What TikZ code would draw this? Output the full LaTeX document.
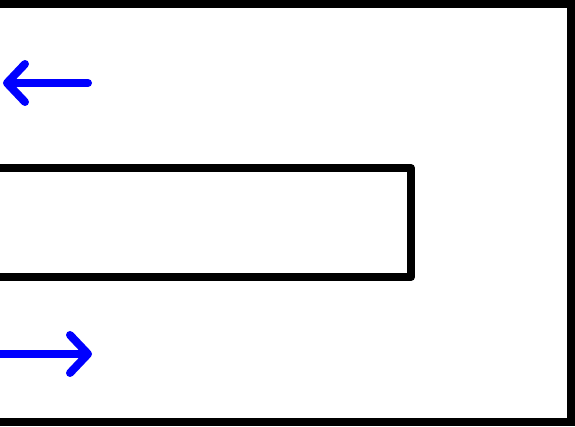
\documentclass[tikz,border=0pt]{standalone}
\usetikzlibrary{arrows.meta}

\tikzset{
  wall/.style={line width=8pt,black},
  flow/.style={line width=8pt,blue,line cap=round,
    -{Straight Barb[length=18pt,width=38pt,round]}}
}

\begin{document}
\begin{tikzpicture}[x=1pt,y=1pt]
\useasboundingbox (0,0) rectangle (575,427);
%\draw[help lines,step=50] (0,0)grid(575,427);
\draw (0,423)coordinate(outtop)
      (571,423)coordinate(outne)
      (571,5)coordinate(outse)
      (0,5)coordinate(outbot)
      (0,259)coordinate(intop)
      (411,259)coordinate(inne)
      (411,150)coordinate(inse)
      (0,150)coordinate(inbot)
      (88,344)coordinate(backs)
      (3,344)coordinate(backe)
      (0,73)coordinate(fwds)
      (92,73)coordinate(fwde);
% outer wall
\draw[wall,line join=miter] (outtop)--(outne)--(outse)--(outbot);
% inner wall
\draw[wall,line join=round] (intop)--(inne)--(inse)--(inbot);
% flow directions
\draw[flow](backs)--(backe);
\draw[flow](fwds)--(fwde);
\end{tikzpicture}
\end{document}
